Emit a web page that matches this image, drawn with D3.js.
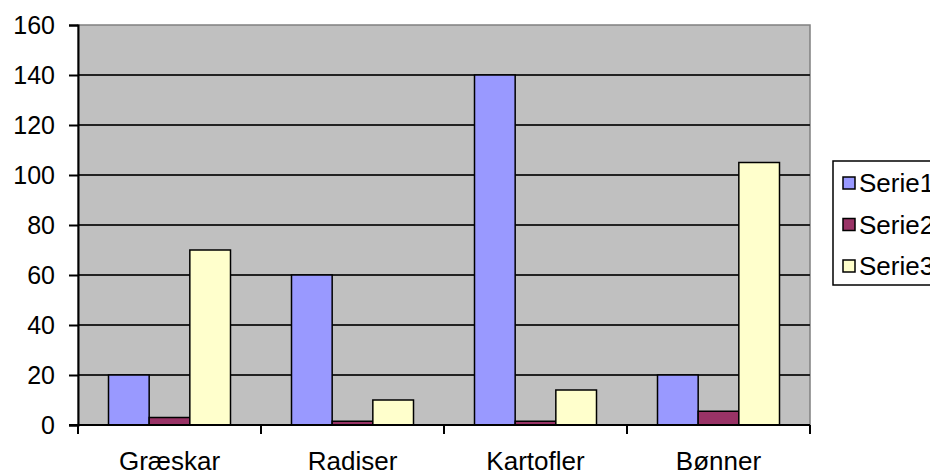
<!DOCTYPE html>
<html><head><meta charset="utf-8">
<script src="https://cdn.jsdelivr.net/npm/d3@7"></script>
<style>body{margin:0;background:#fff}svg{display:block}</style>
</head><body>
<script>
const categories = ["Græskar", "Radiser", "Kartofler", "Bønner"];
const seriesNames = ["Serie1", "Serie2", "Serie3"];
const serie1 = [20, 60, 140, 20];
const serie2 = [3, 1.5, 1.5, 5.5];
const serie3 = [70, 10, 14, 105];
const yTicks = [0, 20, 40, 60, 80, 100, 120, 140, 160];
const colors = ["#9999FF", "#993366", "#FFFFCC"];

const seriesValues = [serie1, serie2, serie3];
const W = 930, H = 475;
const m = {left: 78, right: 810, top: 25, bottom: 425};
const font = "'Liberation Sans', Arial, sans-serif";

const svg = d3.select("body").append("svg").attr("width", W).attr("height", H);

const x0 = d3.scaleBand().domain(categories).range([m.left, m.right]).padding(0);
const x1 = d3.scaleBand().domain(seriesNames).range([0, x0.bandwidth()]).paddingInner(0).paddingOuter(0.75);
const y = d3.scaleLinear().domain([0, 160]).range([m.bottom, m.top]);

// plot area
svg.append("rect").attr("x", m.left).attr("y", m.top)
  .attr("width", m.right - m.left).attr("height", m.bottom - m.top)
  .attr("fill", "#C0C0C0").attr("stroke", "#808080").attr("stroke-width", 1.5);

// gridlines
svg.append("g").selectAll("line").data(yTicks.filter(d => d > 0 && d < 160)).join("line")
  .attr("x1", m.left).attr("x2", m.right)
  .attr("y1", d => y(d)).attr("y2", d => y(d))
  .attr("stroke", "#222").attr("stroke-width", 2);

// bars
const g = svg.append("g");
categories.forEach((c, ci) => {
  seriesNames.forEach((s, si) => {
    const v = seriesValues[si][ci];
    g.append("rect")
      .attr("x", x0(c) + x1(s))
      .attr("y", y(v))
      .attr("width", x1.bandwidth())
      .attr("height", y(0) - y(v))
      .attr("fill", colors[si])
      .attr("stroke", "#000").attr("stroke-width", 1.5);
  });
});

// y axis
const yAxis = d3.axisLeft(y).tickValues(yTicks).tickSize(9).tickPadding(14);
const ya = svg.append("g").attr("transform", `translate(${m.left},0)`).call(yAxis);
ya.select(".domain").attr("stroke", "#000").attr("stroke-width", 2);
ya.selectAll(".tick line").attr("stroke", "#000").attr("stroke-width", 2);
ya.selectAll(".tick text").attr("font-family", font).attr("font-size", 25).attr("fill", "#000");

// x axis
svg.append("line").attr("x1", m.left - 9).attr("x2", m.right)
  .attr("y1", m.bottom).attr("y2", m.bottom).attr("stroke", "#000").attr("stroke-width", 2);
const bounds = categories.map(c => x0(c)).concat([m.right]);
svg.append("g").selectAll("line").data(bounds).join("line")
  .attr("x1", d => d).attr("x2", d => d)
  .attr("y1", m.bottom).attr("y2", m.bottom + 9)
  .attr("stroke", "#000").attr("stroke-width", 2);
svg.append("g").selectAll("text").data(categories).join("text")
  .attr("x", d => x0(d) + x0.bandwidth() / 2)
  .attr("y", 470)
  .attr("text-anchor", "middle")
  .attr("font-family", font).attr("font-size", 26).attr("fill", "#000")
  .text(d => d);

// legend
const lg = svg.append("g");
lg.append("rect").attr("x", 833).attr("y", 161).attr("width", 120).attr("height", 124)
  .attr("fill", "#fff").attr("stroke", "#000").attr("stroke-width", 1.5);
seriesNames.forEach((s, i) => {
  const cy = 183 + i * 41.5;
  lg.append("rect").attr("x", 843).attr("y", cy - 6).attr("width", 12).attr("height", 12)
    .attr("fill", colors[i]).attr("stroke", "#000").attr("stroke-width", 1.5);
  lg.append("text").attr("x", 859).attr("y", cy).attr("dy", "0.36em")
    .attr("font-family", font).attr("font-size", 26).attr("fill", "#000").text(s);
});
</script>
</body></html>
